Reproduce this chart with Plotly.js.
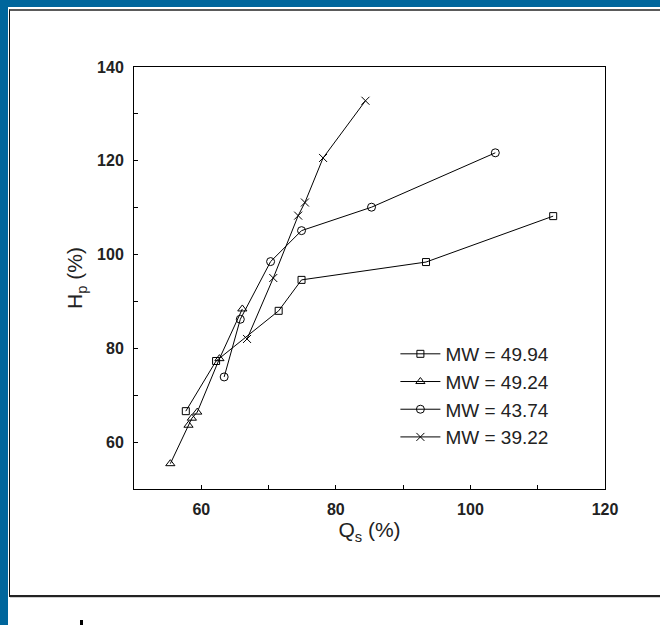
<!DOCTYPE html>
<html>
<head>
<meta charset="utf-8">
<script src="https://cdn.plot.ly/plotly-3.0.1.min.js"></script>
<style>
  html, body { margin: 0; padding: 0; background: #ffffff; }
  #wrap { position: relative; width: 660px; height: 625px; overflow: hidden; background: #ffffff; }
  .blueTop { position: absolute; left: 0; top: 0; width: 660px; height: 7px; background: #00669c; }
  .blueLeft { position: absolute; left: 0; top: 0; width: 8px; height: 625px; background: #00669c; }
  .box { position: absolute; left: 9px; top: 9px; width: 720px; height: 584px;
         border-top: 2px solid #5a5a5a; border-left: 1px solid #111; border-bottom: 2px solid #222; }
  .shadow { position: absolute; left: 10px; top: 597px; width: 660px; height: 1px; background: #cfcfcf; }
  .dot { position: absolute; left: 80px; top: 620px; width: 3px; height: 5px; background: #000; }
  #chart { position: absolute; left: 0; top: 0; width: 660px; height: 625px; }
</style>
</head>
<body>
<div id="wrap">
  <div class="blueTop"></div>
  <div class="blueLeft"></div>
  <div class="box"></div>
  <div class="shadow"></div>
  <div class="dot"></div>
  <div id="chart"></div>
</div>
<script>
// Series data (Qs %, Hp %)
const names = ["MW = 49.94", "MW = 49.24", "MW = 43.74", "MW = 39.22"];
const qs_4994 = [57.7, 62.2, 71.5, 74.9, 93.4, 112.3];
const hp_4994 = [66.6, 77.3, 88.0, 94.6, 98.4, 108.2];
const qs_4924 = [55.4, 58.1, 58.6, 59.4, 62.7, 66.1];
const hp_4924 = [55.4, 63.6, 65.1, 66.4, 77.8, 88.4];
const qs_4374 = [63.4, 65.8, 70.3, 74.9, 85.3, 103.7];
const hp_4374 = [73.9, 86.2, 98.5, 105.1, 110.1, 121.7];
const qs_3922 = [66.8, 70.7, 74.4, 75.4, 78.1, 84.4];
const hp_3922 = [82.0, 95.0, 108.3, 111.1, 120.6, 132.8];
const xTicks = [60, 80, 100, 120];
const yTicks = [60, 80, 100, 120, 140];

const symbols = ["square-open", "triangle-up-open", "circle-open", "x-thin-open"];
const sizes = [7, 8, 8, 8];
const xs = [qs_4994, qs_4924, qs_4374, qs_3922];
const ys = [hp_4994, hp_4924, hp_4374, hp_3922];

const traces = names.map((n, i) => ({
  type: "scatter",
  mode: "lines+markers",
  name: n,
  x: xs[i],
  y: ys[i],
  line: { color: "#000", width: 1 },
  marker: { symbol: symbols[i], size: sizes[i], color: "#000", line: { color: "#000", width: 1 } }
}));

const tickFont = { family: "Liberation Sans, Arial, sans-serif", size: 16, color: "#222", weight: "bold" };

const layout = {
  width: 660,
  height: 625,
  margin: { l: 134, r: 55, t: 67, b: 136 },
  paper_bgcolor: "rgba(0,0,0,0)",
  plot_bgcolor: "#ffffff",
  showlegend: true,
  legend: {
    x: 0.555, y: 0.365, xanchor: "left", yanchor: "top",
    bgcolor: "rgba(0,0,0,0)",
    font: { family: "Liberation Sans, Arial, sans-serif", size: 19, color: "#222" },
    tracegroupgap: 0,
    itemwidth: 40
  },
  xaxis: {
    range: [50, 120],
    tickvals: xTicks,
    ticktext: xTicks.map(String),
    ticks: "inside", ticklen: 4, tickcolor: "#000",
    minor: { dtick: 10, ticks: "inside", ticklen: 4, tickcolor: "#000", showgrid: false },
    showline: true, linecolor: "#000", linewidth: 1, mirror: true,
    showgrid: false, zeroline: false,
    tickfont: tickFont,
    ticklabelstandoff: 6,
    title: { text: "Q<sub>s</sub> (%)", font: { family: "Liberation Sans, Arial, sans-serif", size: 21, color: "#222" }, standoff: 4 }
  },
  yaxis: {
    range: [50, 140],
    tickvals: yTicks,
    ticktext: yTicks.map(String),
    ticks: "inside", ticklen: 4, tickcolor: "#000",
    minor: { dtick: 10, ticks: "inside", ticklen: 4, tickcolor: "#000", showgrid: false },
    showline: true, linecolor: "#000", linewidth: 1, mirror: true,
    showgrid: false, zeroline: false,
    tickfont: tickFont,
    ticklabelstandoff: 6,
    title: { text: "H<sub>p</sub> (%)", font: { family: "Liberation Sans, Arial, sans-serif", size: 21, color: "#222" }, standoff: 8 }
  }
};

Plotly.newPlot("chart", traces, layout, { displayModeBar: false, staticPlot: true });
</script>
</body>
</html>
